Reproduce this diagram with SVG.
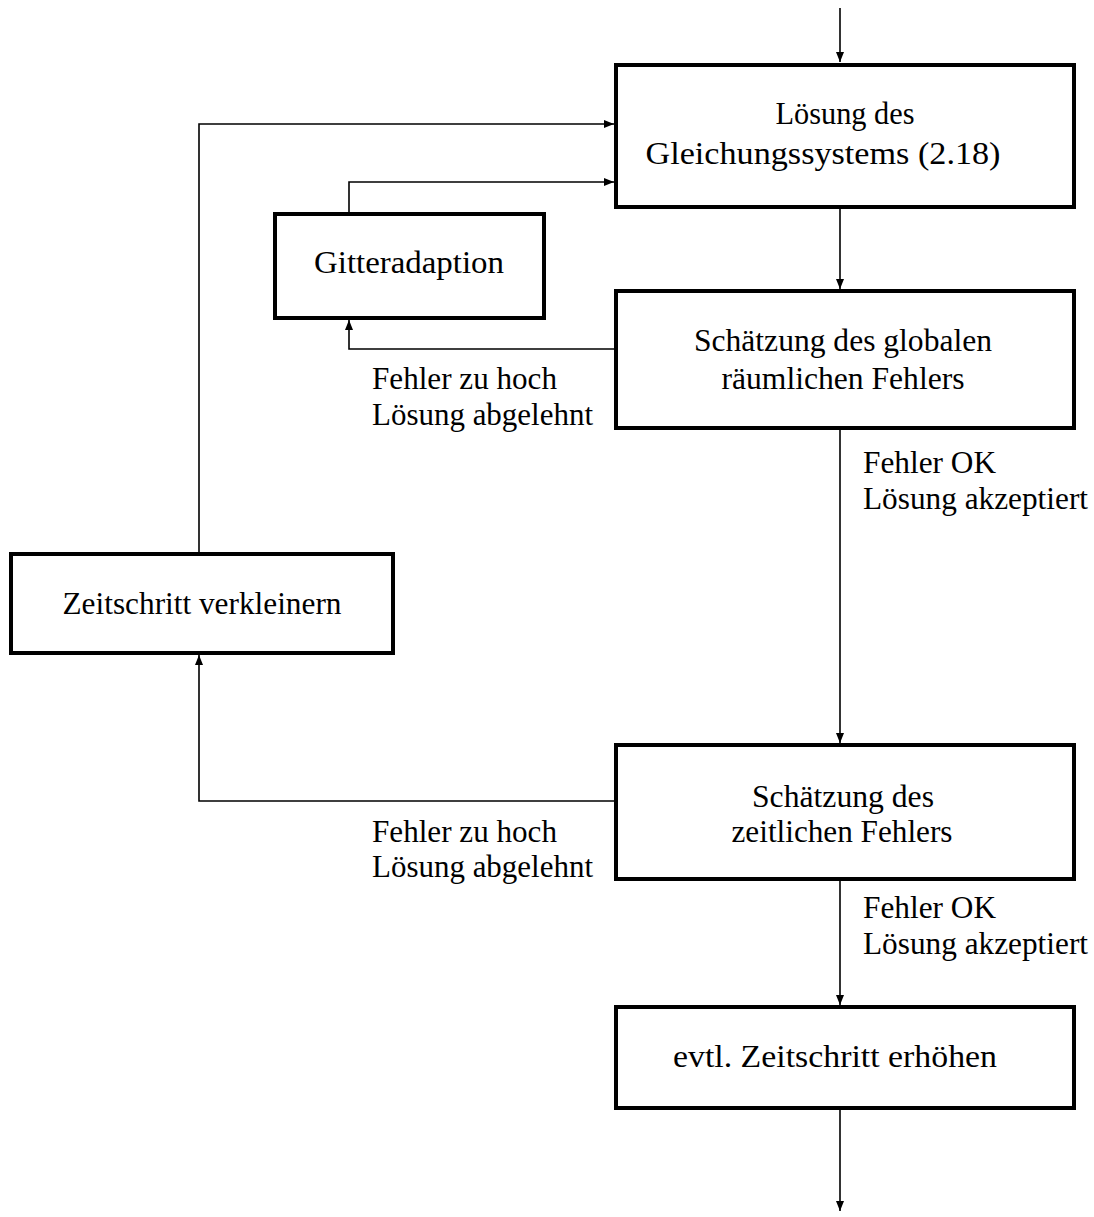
<svg xmlns="http://www.w3.org/2000/svg" width="1094" height="1217" viewBox="0 0 1094 1217">
<style>
.box{fill:#fff;stroke:#000;stroke-width:4}
.c{fill:none;stroke:#000;stroke-width:1.6}
text{font-family:"Liberation Serif","Times New Roman",serif;font-size:31px;fill:#000}
.m{text-anchor:middle}
</style>
<defs>
<marker id="ah" viewBox="0 0 10 8" refX="10" refY="4" markerWidth="10" markerHeight="8" markerUnits="userSpaceOnUse" orient="auto">
<path d="M0,0 L10,4 L0,8 Z" fill="#000"/>
</marker>
</defs>
<g id="connectors">
<line class="c" x1="840" y1="8" x2="840" y2="62" marker-end="url(#ah)"/>
<line class="c" x1="840" y1="209" x2="840" y2="289" marker-end="url(#ah)"/>
<line class="c" x1="840" y1="430" x2="840" y2="743" marker-end="url(#ah)"/>
<line class="c" x1="840" y1="881" x2="840" y2="1005" marker-end="url(#ah)"/>
<line class="c" x1="840" y1="1110" x2="840" y2="1211" marker-end="url(#ah)"/>
<polyline class="c" points="199,552 199,124 614,124" marker-end="url(#ah)"/>
<polyline class="c" points="349,212 349,182 614,182" marker-end="url(#ah)"/>
<polyline class="c" points="614,349 349,349 349,320" marker-end="url(#ah)"/>
<polyline class="c" points="614,801 199,801 199,655" marker-end="url(#ah)"/>
</g>
<g id="n1"><rect class="box" x="616" y="65" width="458" height="142"/>
<text class="m" x="845" y="124" textLength="139" lengthAdjust="spacingAndGlyphs">Lösung des</text>
<text class="m" x="823" y="164" textLength="355" lengthAdjust="spacingAndGlyphs">Gleichungssystems (2.18)</text></g>
<g id="n2"><rect class="box" x="275" y="214" width="269" height="104"/>
<text class="m" x="409" y="273" textLength="190" lengthAdjust="spacingAndGlyphs">Gitteradaption</text></g>
<g id="n3"><rect class="box" x="616" y="291" width="458" height="137"/>
<text class="m" x="843" y="351" textLength="298" lengthAdjust="spacingAndGlyphs">Schätzung des globalen</text>
<text class="m" x="843" y="389" textLength="243" lengthAdjust="spacingAndGlyphs">räumlichen Fehlers</text></g>
<g id="n4"><rect class="box" x="11" y="554" width="382" height="99"/>
<text class="m" x="202" y="614" textLength="279" lengthAdjust="spacingAndGlyphs">Zeitschritt verkleinern</text></g>
<g id="n5"><rect class="box" x="616" y="745" width="458" height="134"/>
<text class="m" x="843" y="807" textLength="182" lengthAdjust="spacingAndGlyphs">Schätzung des</text>
<text class="m" x="842" y="842" textLength="221" lengthAdjust="spacingAndGlyphs">zeitlichen Fehlers</text></g>
<g id="n6"><rect class="box" x="616" y="1007" width="458" height="101"/>
<text class="m" x="835" y="1067" textLength="324" lengthAdjust="spacingAndGlyphs">evtl. Zeitschritt erhöhen</text></g>
<g id="labels">
<text x="372" y="389" textLength="185" lengthAdjust="spacingAndGlyphs">Fehler zu hoch</text>
<text x="372" y="425" textLength="221" lengthAdjust="spacingAndGlyphs">Lösung abgelehnt</text>
<text x="863" y="473" textLength="133" lengthAdjust="spacingAndGlyphs">Fehler OK</text>
<text x="863" y="509" textLength="225" lengthAdjust="spacingAndGlyphs">Lösung akzeptiert</text>
<text x="372" y="842" textLength="185" lengthAdjust="spacingAndGlyphs">Fehler zu hoch</text>
<text x="372" y="877" textLength="221" lengthAdjust="spacingAndGlyphs">Lösung abgelehnt</text>
<text x="863" y="918" textLength="133" lengthAdjust="spacingAndGlyphs">Fehler OK</text>
<text x="863" y="954" textLength="225" lengthAdjust="spacingAndGlyphs">Lösung akzeptiert</text>
</g>
</svg>
